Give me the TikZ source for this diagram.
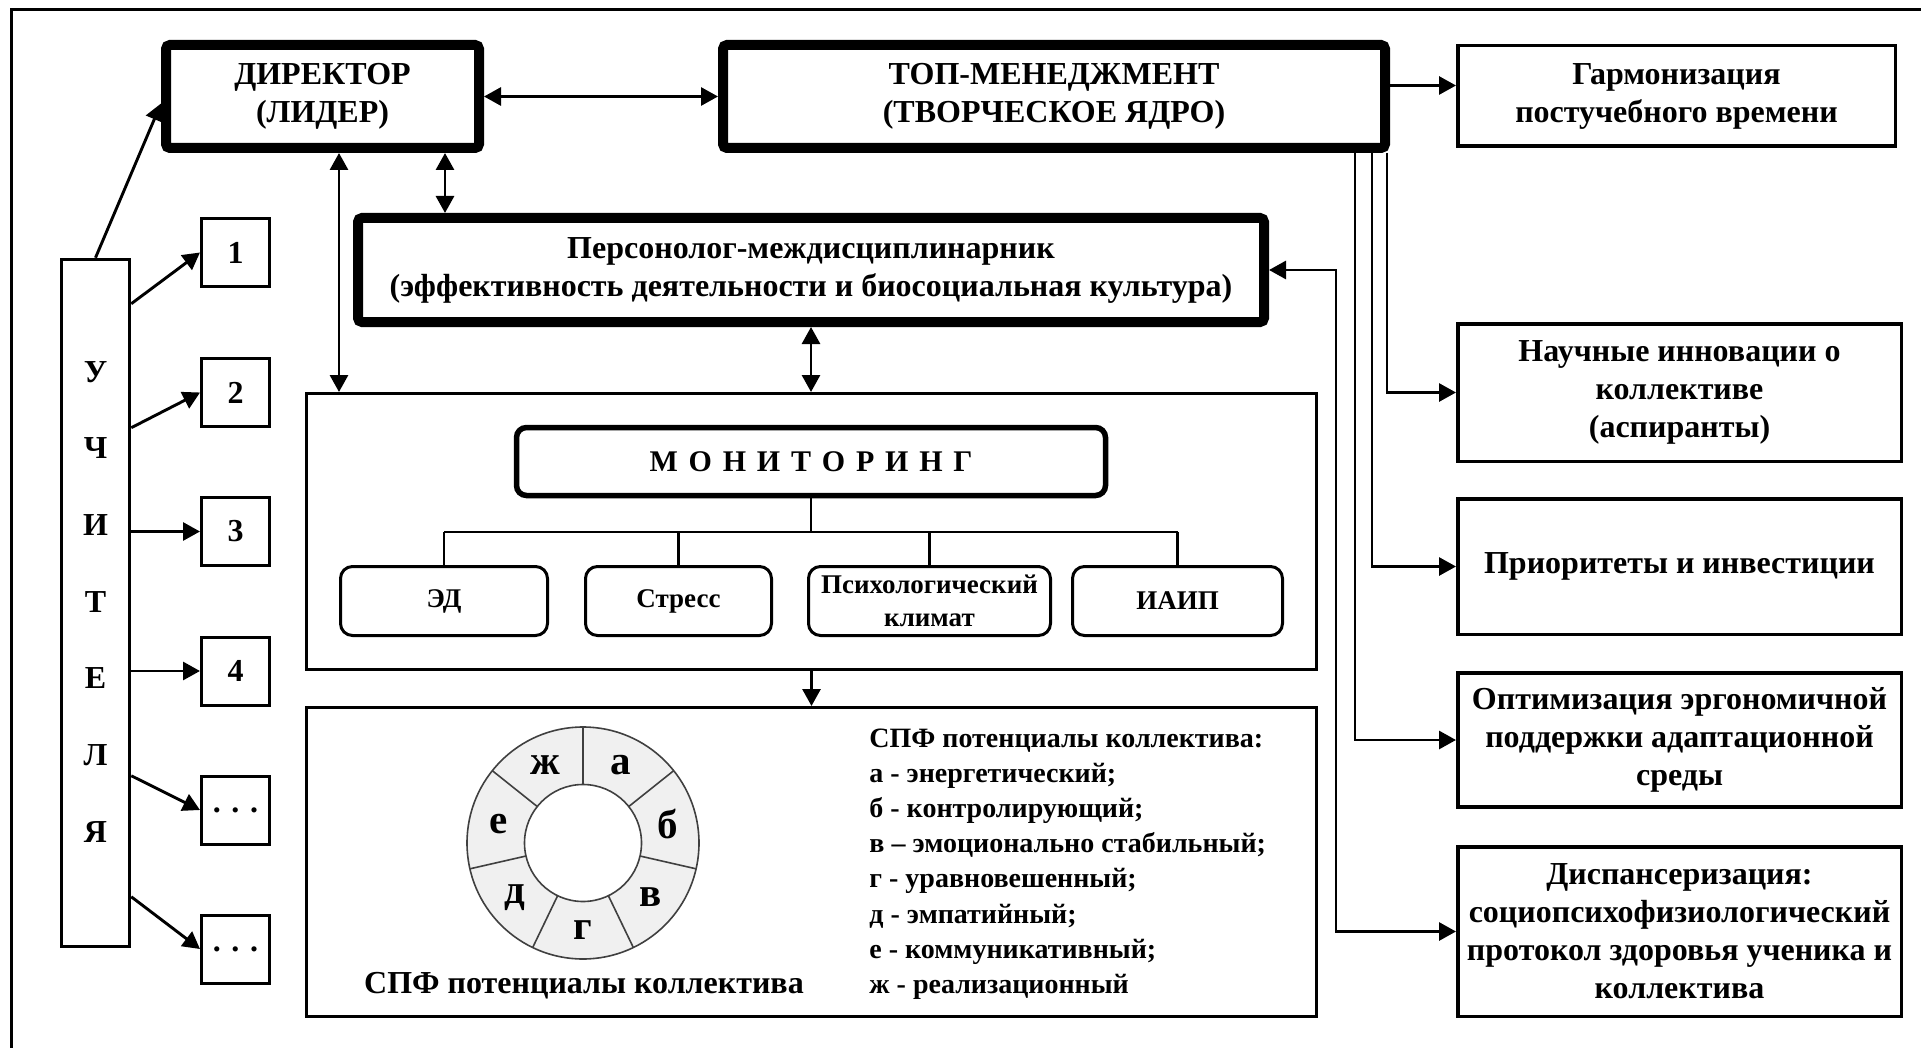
\documentclass[tikz,border=0pt]{standalone}
\usepackage{fontspec}
\setmainfont{Liberation Serif}
\usetikzlibrary{arrows.meta,calc}
\newcommand\fMain{\fontsize{16}{19}\selectfont\bfseries}
\newcommand\fSmall{\fontsize{13.5}{16.5}\selectfont\bfseries}
\newcommand\fLeg{\fontsize{14}{17.5}\selectfont\bfseries}
\newcommand\fRing{\fontsize{20.5}{24}\selectfont\bfseries}
\newcommand\msp{\hspace{0.36em}}
\begin{document}
\begin{tikzpicture}[x=0.5pt,y=-0.5pt,
  tip/.style={-{Triangle[length=8.5pt,width=9pt]}},
  dtip/.style={{Triangle[length=8.5pt,width=9pt]}-{Triangle[length=8.5pt,width=9pt]}},
  conn/.style={line width=1.45pt},
  thickbox/.style={draw, line width=5pt, rounded corners=2pt, align=center, font=\fMain, inner sep=0pt},
  rbox/.style={draw, line width=1.75pt, align=center, font=\fMain, inner sep=0pt, minimum width=221.75pt},
  sbox/.style={draw, line width=1.5pt, rounded corners=6pt, minimum height=34.5pt, align=center, font=\fSmall, inner sep=0pt},
  nbox/.style={draw, line width=1.5pt, minimum width=34pt, minimum height=34pt, inner sep=0pt, font=\fMain},
  plain/.style={draw, line width=1.5pt, inner sep=0pt}]
\useasboundingbox (0,0) rectangle (1921,1048);
\fill[white] (0,0) rectangle (1921,1048);
% outer frame
\draw[line width=1.5pt] (11,1070) -- (11,10) -- (1940,10);

% main boxes
\node[thickbox, minimum width=156.5pt, minimum height=51.5pt] (dir) at (322.5,96.5) {ДИРЕКТОР\\(ЛИДЕР)};
\node[thickbox, minimum width=331pt, minimum height=51.5pt] (top) at (1054,96.5) {ТОП-МЕНЕДЖМЕНТ\\(ТВОРЧЕСКОЕ ЯДРО)};
\node[thickbox, minimum width=453pt, minimum height=52pt] (pers) at (811,270) {Персонолог-междисциплинарник\\(эффективность деятельности и биосоциальная культура)};

% monitoring container
\node[plain, minimum width=505pt, minimum height=138pt] (mon) at (811.5,531.5) {};
\node[draw, line width=2.75pt, rounded corners=5pt, minimum width=294.5pt, minimum height=34pt, inner sep=0pt, font=\fontsize{15}{18}\selectfont\bfseries] (mh) at (811,461.5) {М\msp О\msp Н\msp И\msp Т\msp О\msp Р\msp И\msp Н\msp Г};
\node[sbox, minimum width=103.5pt] (ed) at (444,601) {ЭД};
\node[sbox, minimum width=93pt] (stress) at (678.5,601) {Стресс};
\node[sbox, minimum width=121pt] (psy) at (929.5,601) {Психологический\\климат};
\node[sbox, minimum width=105pt] (iaip) at (1177.5,601) {ИАИП};
\coordinate (bus) at (811,532);
\draw[conn] (mh.south) -- (mh.south |- bus);
\draw[conn] (ed.north |- bus) -- (iaip.north |- bus);
\foreach \n in {ed,stress,psy,iaip} \draw[conn] (\n.north |- bus) -- (\n.north);

% legend container
\node[plain, minimum width=505pt, minimum height=154.5pt] (leg) at (811.5,862) {};
\begin{scope}[shift={(583,843)}, yscale=-1]
  \path[fill=black!6, even odd rule] (0,0) circle[radius=58pt] (0,0) circle[radius=29.25pt];
  \draw[black!75, line width=0.8pt] (0,0) circle[radius=58pt];
  \draw[black!75, line width=0.8pt] (0,0) circle[radius=29.25pt];
  \foreach \a in {90,38.57,-12.86,-64.29,-115.71,-167.14,141.43}
    \draw[black!75, line width=0.8pt] (\a:58.5) -- (\a:116);
  \foreach \a/\t in {64.29/а,12.86/б,-38.57/в,-90/г,-141.43/д,167.14/е,115.71/ж}
    \node[font=\fRing, inner sep=0pt] (r\t) at (\a:87) {\t};
\end{scope}
\node[font=\fMain, anchor=base, inner sep=0pt] (cap) at (584,993) {СПФ потенциалы коллектива};
\foreach \t [count=\i from 0] in {СПФ потенциалы коллектива:,а - энергетический;,б - контролирующий;,в – эмоционально стабильный;,г - уравновешенный;,д - эмпатийный;,е - коммуникативный;,ж - реализационный}
  \node[font=\fLeg, anchor=base west, inner sep=0pt] (l\i) at (869,{747+35.2*\i}) {\t};

% teachers
\node[draw, line width=1.75pt, minimum width=34pt, minimum height=343.5pt, inner sep=0pt] (teach) at (95.5,603) {};
\foreach \l [count=\i from 0] in {У,Ч,И,Т,Е,Л,Я}
  \node[font=\fMain, anchor=base, inner sep=0pt] (tl\i) at (95.5,{382+76.67*\i}) {\l};
\node[nbox] (b1) at (235.5,252.5) {1};
\node[nbox] (b2) at (235.5,392.5) {2};
\node[nbox] (b3) at (235.5,531.5) {3};
\node[nbox] (b4) at (235.5,671) {4};
\node[nbox] (b5) at (235.5,810) {.\,\,.\,\,.};
\node[nbox] (b6) at (235.5,949) {.\,\,.\,\,.};
\draw[conn,tip] (teach.north) -- ([yshift=-3.5pt]dir.west);
\draw[conn,tip] ($(teach.north east)+(0,46)$) -- (b1.west);
\draw[conn,tip] ($(teach.north east)+(0,170)$) -- (b2.west);
\draw[conn,tip] (teach.east |- b3.west) -- (b3.west);
\draw[conn,tip] (teach.east |- b4.west) -- (b4.west);
\draw[conn,tip] ($(teach.north east)+(0,518)$) -- (b5.west);
\draw[conn,tip] ($(teach.north east)+(0,639)$) -- (b6.west);

% right boxes
\node[rbox, minimum width=218.75pt, minimum height=50.25pt] (harm) at (1676.5,96) {Гармонизация\\постучебного времени};
\node[rbox, minimum height=68.75pt] (nauch) at (1679.5,392.5) {Научные инновации о\\коллективе\\(аспиранты)};
\node[rbox, minimum height=67.75pt] (prior) at (1679.5,566.5) {Приоритеты и инвестиции};
\node[rbox, minimum height=67pt] (optim) at (1679.5,740) {Оптимизация эргономичной\\поддержки адаптационной\\среды};
\node[rbox, minimum height=84.75pt] (disp) at (1679.5,931.5) {Диспансеризация:\\социопсихофизиологический\\протокол здоровья ученика и\\коллектива};

% connectors
\coordinate (x339) at (339,0);
\coordinate (x445) at (445,0);
\coordinate (x1336) at (1336,0);
\coordinate (x1355) at (1355,0);
\coordinate (x1372) at (1372,0);
\coordinate (x1387) at (1387,0);
\draw[conn,dtip] (dir.east) -- (top.west);
\draw[conn,dtip] (x445 |- dir.south) -- (x445 |- pers.north);
\draw[conn,dtip] (x339 |- dir.south) -- (x339 |- mon.north);
\draw[conn,dtip] (pers.south) -- (pers.south |- mon.north);
\draw[conn,tip] (mon.south) -- (leg.north);
\draw[conn,tip] ([yshift=5.5pt]top.east) -- ([yshift=5.5pt]top.east -| harm.west);
\draw[conn,tip] (x1387 |- top.south) |- (nauch.west);
\draw[conn,tip] (x1372 |- top.south) |- (prior.west);
\draw[conn,tip] (x1355 |- top.south) |- (optim.west);
\draw[conn,dtip] (pers.east) -- (x1336 |- pers.east) |- (disp.west);
\end{tikzpicture}
\end{document}
